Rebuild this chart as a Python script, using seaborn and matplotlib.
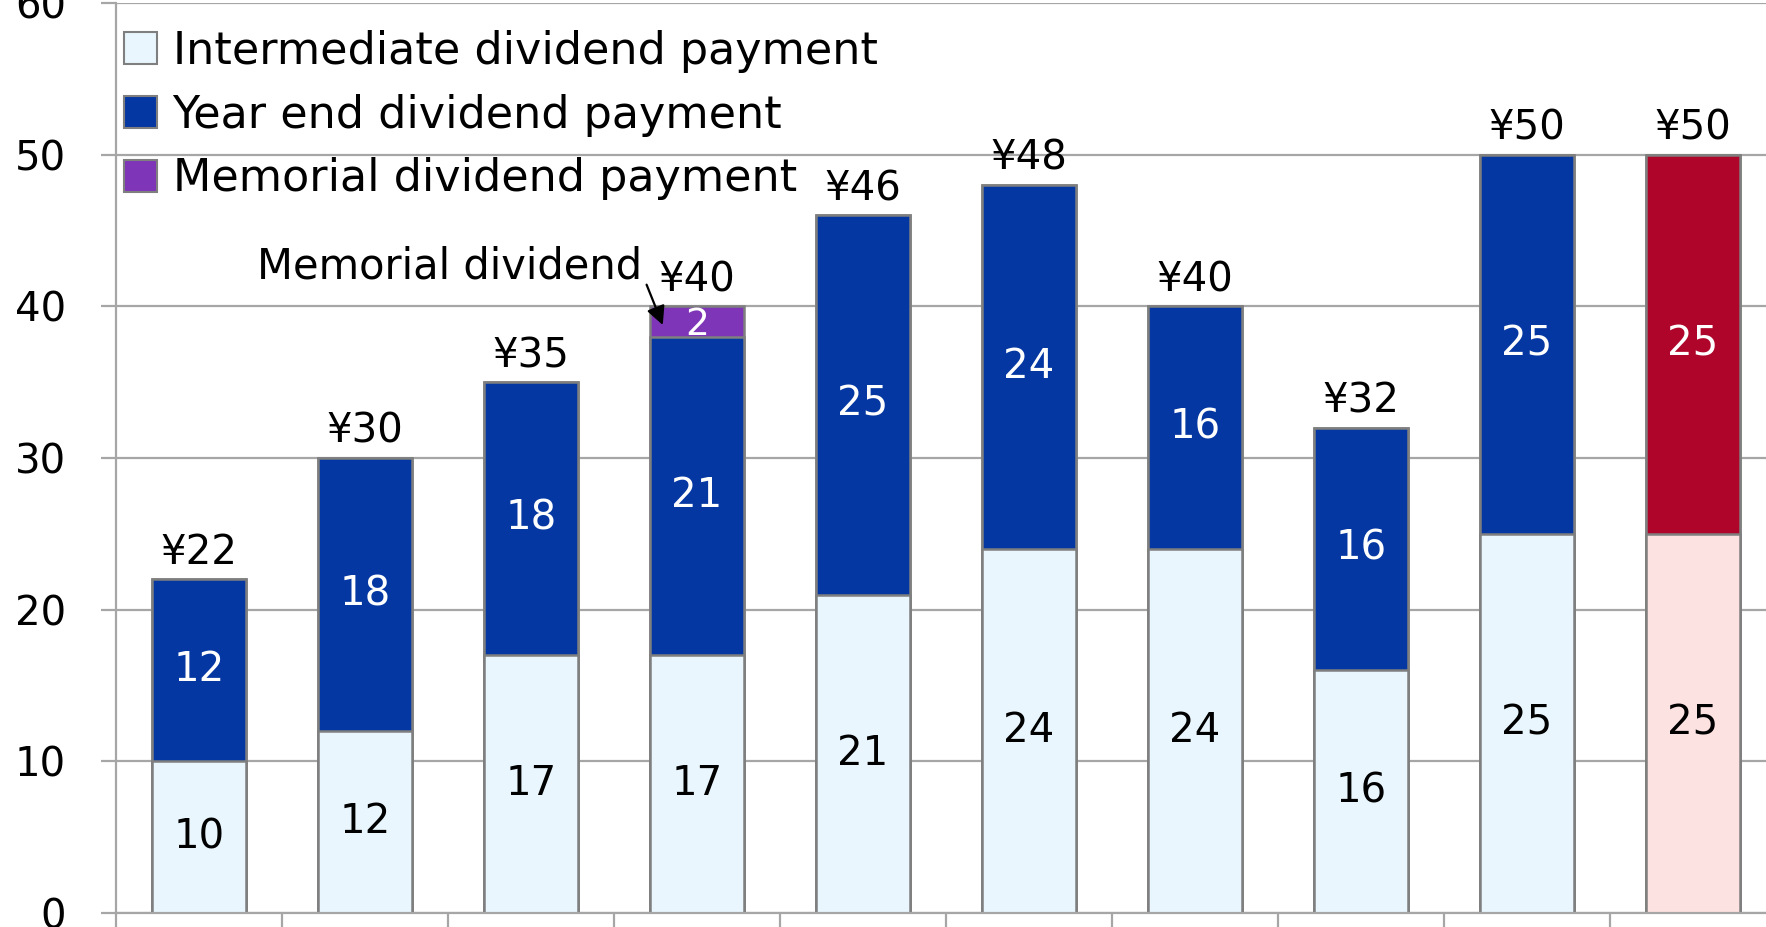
import numpy as np
import pandas as pd
import matplotlib
matplotlib.use("Agg")
import matplotlib.pyplot as plt
import seaborn as sns
from matplotlib.patches import Patch

sns.set_theme(style="white")
plt.rcParams["font.family"] = ["DejaVu Sans"]
plt.rcParams["text.color"] = "black"

# Data (x labels are cropped away in the reference)
periods = ["P1", "P2", "P3", "P4", "P5", "P6", "P7", "P8", "P9", "P10"]
intermediate = [10, 12, 17, 17, 21, 24, 24, 16, 25, 25]
year_end = [12, 18, 18, 21, 25, 24, 16, 16, 25, 25]
memorial = [0, 0, 0, 2, 0, 0, 0, 0, 0, 0]
total_labels = ["¥22", "¥30", "¥35", "¥40", "¥46", "¥48", "¥40", "¥32", "¥50", "¥50"]

inter = np.array(intermediate)
lower_two = inter + np.array(year_end)
totals = lower_two + np.array(memorial)

light_blue = "#E9F6FD"
dark_blue = "#0537A2"
purple = "#7E35B8"
red = "#B0052A"
pink = "#FDE2E2"
edge = "#7F7F7F"
fs = 29

fig = plt.figure(figsize=(17.66, 9.27), dpi=100)
ax = fig.add_axes([116 / 1766, 14 / 927, 1660 / 1766, 910 / 927])

bar_kw = dict(hue=periods, legend=False, width=0.563, saturation=1,
              edgecolor=edge, linewidth=1.8, ax=ax)
# painter's stacking: tallest layer first
sns.barplot(x=periods, y=totals, palette=[purple] * 10, **bar_kw)
sns.barplot(x=periods, y=lower_two, palette=[dark_blue] * 9 + [red], **bar_kw)
sns.barplot(x=periods, y=inter, palette=[light_blue] * 9 + [pink], **bar_kw)

for i in range(len(periods)):
    ax.text(i, inter[i] / 2, str(intermediate[i]), ha="center", va="center",
            fontsize=fs, color="black")
    ax.text(i, (inter[i] + lower_two[i]) / 2, str(year_end[i]), ha="center",
            va="center", fontsize=fs, color="white")
    if memorial[i]:
        ax.text(i, (lower_two[i] + totals[i]) / 2 - 0.2, str(memorial[i]),
                ha="center", va="center", fontsize=fs - 2, color="white")
    ax.text(i, totals[i] + 0.4, total_labels[i], ha="center", va="bottom",
            fontsize=fs, color="black")

ax.text(2.67, 42.6, "Memorial dividend", ha="right", va="center", fontsize=30)
ax.annotate("", xy=(2.8, 38.6), xytext=(2.69, 41.6),
            arrowprops=dict(arrowstyle="-|>", color="black", lw=1.6,
                            mutation_scale=28))

ax.set_xlim(-0.5, 9.5)
ax.set_ylim(0, 60)
ax.set_yticks(range(0, 61, 10))
ax.set_xticks(np.arange(-0.5, 10, 1))
ax.set_xticklabels([])
ax.set_xlabel("")
ax.set_ylabel("")
ax.yaxis.grid(True, color="#A6A6A6", linewidth=1.6)
ax.set_axisbelow(True)
ax.tick_params(axis="y", labelsize=fs, length=11, width=1.6, color="#A6A6A6",
               labelcolor="black", left=True, pad=25)
ax.tick_params(axis="x", length=10, width=1.6, color="#A6A6A6", bottom=True,
               direction="out")
for s in ["top", "right"]:
    ax.spines[s].set_visible(False)
for s in ["left", "bottom"]:
    ax.spines[s].set_color("#A6A6A6")
    ax.spines[s].set_linewidth(1.6)

handles = [Patch(facecolor=light_blue, edgecolor=edge, linewidth=1.5),
           Patch(facecolor=dark_blue, edgecolor=edge, linewidth=1.5),
           Patch(facecolor=purple, edgecolor=edge, linewidth=1.5)]
leg = fig.legend(handles, ["Intermediate dividend payment", "Year end dividend payment",
                           "Memorial dividend payment"],
                 loc="upper left", bbox_to_anchor=(0.070, 0.968),
                 bbox_transform=fig.transFigure, frameon=False, fontsize=32,
                 handlelength=0.75, handleheight=0.75, handletextpad=0.35,
                 labelspacing=0.47, borderpad=0, borderaxespad=0)
for t in leg.get_texts():
    t.set_color("black")

fig.savefig("out.png", dpi=100)
